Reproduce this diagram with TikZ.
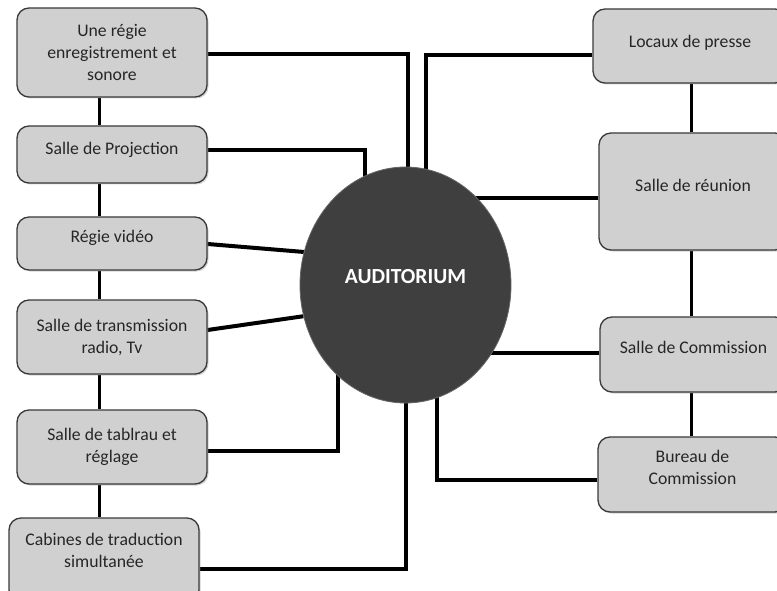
\documentclass[tikz,border=0pt]{standalone}
\usepackage{fontspec}
\setmainfont{Carlito}
\usetikzlibrary{shapes.geometric,shadows,backgrounds}
\definecolor{boxfill}{HTML}{D0D0D0}
\definecolor{boxline}{HTML}{3A3A3A}
\definecolor{audfill}{HTML}{3F3F3F}
\tikzset{
  roombox/.style={draw=boxline, line width=1.3pt, fill=boxfill, rounded corners=12pt,
    align=center, font=\fontsize{17.7}{22}\selectfont, text=black!85,
    drop shadow={shadow xshift=1.5pt, shadow yshift=-1.5pt, opacity=0.35}},
  link/.style={line width=4pt, black},
  chain/.style={line width=3pt, black}
}
\begin{document}
\begin{tikzpicture}[x=1pt,y=-1pt]
\clip (0,0) rectangle (777,591);
% left column
\node[roombox, minimum width=190pt, minimum height=89pt] (b1) at (112,52.5) {Une régie\\enregistrement et\\sonore};
\node[roombox, minimum width=190pt, minimum height=57pt, text height=12pt, text depth=12pt] (b2) at (112,154.5) {Salle de Projection};
\node[roombox, minimum width=190pt, minimum height=53pt, text height=12pt, text depth=15pt] (b3) at (112,243.5) {Régie vidéo};
\node[roombox, minimum width=190pt, minimum height=74pt] (b4) at (112,337) {Salle de transmission\\radio, Tv};
\node[roombox, minimum width=190pt, minimum height=74pt] (b5) at (112,447) {Salle de tablrau et\\réglage};
\node[roombox, minimum width=190pt, minimum height=84pt, text depth=20pt] (b6) at (104,560) {Cabines de traduction\\simultanée};
% right column
\node[roombox, minimum width=194pt, minimum height=74pt, text height=12pt, text depth=8pt] (r1) at (690,46) {Locaux de presse};
\node[roombox, minimum width=188pt, minimum height=117pt, text height=12pt, text depth=11pt] (r2) at (693,191.5) {Salle de réunion};
\node[roombox, minimum width=187pt, minimum height=75pt, text height=12pt, text depth=15pt] (r3) at (693.5,354.5) {Salle de Commission};
\node[roombox, minimum width=189pt, minimum height=75pt, text depth=14pt] (r4) at (692.5,474.5) {Bureau de\\Commission};
% centre
\node[ellipse, draw=black!60, line width=0.8pt, fill=audfill, minimum width=211pt, minimum height=236pt,
  text=white, font=\fontsize{21.5}{26}\selectfont\bfseries, text height=15pt, text depth=18pt] (aud) at (405.5,285) {AUDITORIUM};
\begin{scope}[on background layer]
  \fill[white] (0,0) rectangle (777,591);
  \draw[chain] ([xshift=-13pt]b1.south) -- ([xshift=-13pt]b1.south |- b2.north);
  \draw[chain] ([xshift=-13pt]b2.south) -- ([xshift=-13pt]b2.south |- b3.north);
  \draw[chain] ([xshift=-13pt]b3.south) -- ([xshift=-13pt]b3.south |- b4.north);
  \draw[chain] ([xshift=-13pt]b4.south) -- ([xshift=-13pt]b4.south |- b5.north);
  \draw[chain] ([xshift=-13pt]b5.south) -- ([xshift=-13pt]b5.south |- b6.north);
  \draw[chain] (691,0 |- r1.south) -- (691,0 |- r2.north);
  \draw[chain] (691,0 |- r2.south) -- (691,0 |- r3.north);
  \draw[chain] (691,0 |- r3.south) -- (691,0 |- r4.north);
  \draw[link] ([yshift=-1.5pt]b1.east) -| ([xshift=2.5pt]aud.center);
  \draw[link] ([yshift=4.5pt]b2.east) -| ([xshift=-40.5pt]aud.center);
  \draw[link] ([yshift=-0.5pt]b3.east) -- (aud.162.5);
  \draw[link] ([yshift=7pt]b4.east) -- (aud.197);
  \draw[link] ([yshift=-4pt]b5.east) -| ([xshift=-67.5pt]aud.center);
  \draw[link] ([yshift=-9pt]b6.east) -| (aud.center);
  \draw[link] ([yshift=-9pt]r1.west) -| ([xshift=20.5pt]aud.center);
  \draw[link] ([yshift=-6.5pt]r2.west) -- ([yshift=-6.5pt]r2.west -| aud.center);
  \draw[link] ([yshift=1.5pt]r3.west) -- ([yshift=1.5pt]r3.west -| aud.center);
  \draw[link] ([yshift=-5.5pt]r4.west) -| ([xshift=31.5pt]aud.center);
\end{scope}
\end{tikzpicture}
\end{document}
